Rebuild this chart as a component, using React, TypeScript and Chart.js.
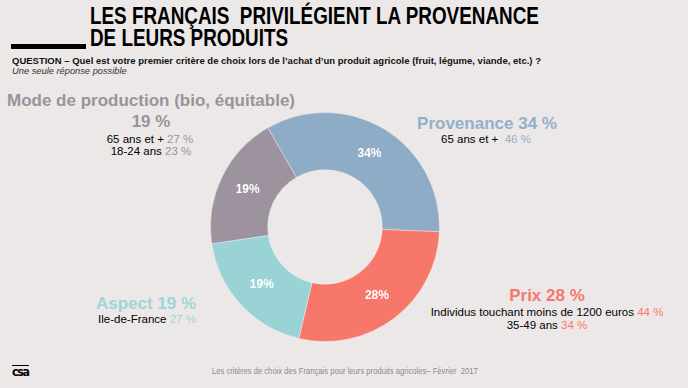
import React, { useEffect, useRef } from "react";
import { Chart, registerables } from "chart.js";

Chart.register(...registerables);

const categories = ["Provenance", "Prix", "Aspect", "Mode de production (bio, équitable)"];
const shares = [34, 28, 19, 19];
const sliceLabels = ["34%", "28%", "19%", "19%"];
const sliceColors = ["#8FACC7", "#F7776B", "#9AD3D6", "#9C939F"];

const BG = "#ECE8E8";
const FONT = "'Liberation Sans', Arial, sans-serif";

const labelPlugin = {
  id: "sliceLabels",
  afterDatasetsDraw(chart: any) {
    const ctx = chart.ctx;
    const meta = chart.getDatasetMeta(0);
    ctx.save();
    ctx.fillStyle = "#FFFFFF";
    ctx.font = `bold 12px ${FONT}`;
    ctx.textAlign = "center";
    ctx.textBaseline = "middle";
    meta.data.forEach((arc: any, i: number) => {
      const p = arc.tooltipPosition();
      ctx.fillText(sliceLabels[i], p.x, p.y);
    });
    ctx.restore();
  },
};

type Part = { t: string; c: string };

function Txt(props: { x: number; y: number; size: number; bold?: boolean; parts: Part[]; align?: string; italic?: boolean }) {
  const { x, y, size, bold, parts, align, italic } = props;
  const tx = align === "left" ? "0" : "-50%";
  return (
    <div
      style={{
        position: "absolute",
        left: x,
        top: y,
        transform: `translate(${tx}, -50%)`,
        fontFamily: FONT,
        fontSize: size,
        fontWeight: bold ? "bold" : "normal",
        fontStyle: italic ? "italic" : "normal",
        lineHeight: 1,
        whiteSpace: "pre",
      }}
    >
      {parts.map((p, i) => (
        <span key={i} style={{ color: p.c }}>
          {p.t}
        </span>
      ))}
    </div>
  );
}

export default function App() {
  const ref = useRef<HTMLCanvasElement | null>(null);

  useEffect(() => {
    if (!ref.current) return;
    const chart = new Chart(ref.current, {
      type: "doughnut",
      data: {
        labels: categories,
        datasets: [
          {
            data: shares,
            backgroundColor: sliceColors,
            borderColor: "rgba(255,255,255,0.35)",
            borderWidth: 1,
          },
        ],
      },
      options: {
        animation: false,
        responsive: false,
        maintainAspectRatio: false,
        cutout: "50%",
        rotation: -30,
        layout: { padding: 4 },
        plugins: { legend: { display: false }, tooltip: { enabled: false } },
      },
      plugins: [labelPlugin],
    });
    return () => chart.destroy();
  }, []);

  const grayM = "#9A939D";
  const blueP = "#93B0CB";
  const aqua = "#9DD6DA";
  const red = "#F8776B";

  return (
    <div style={{ position: "fixed", left: 0, top: 0, width: 688, height: 388, background: BG, overflow: "hidden" }}>
      <div
        style={{
          position: "absolute",
          left: 90,
          top: 4.5,
          fontFamily: FONT,
          fontWeight: "bold",
          fontSize: 23,
          lineHeight: "22px",
          color: "#000",
          whiteSpace: "pre",
          transform: "scaleX(0.82)",
          transformOrigin: "left top",
        }}
      >
        {"LES FRANÇAIS  PRIVILÉGIENT LA PROVENANCE\nDE LEURS PRODUITS"}
      </div>
      <div style={{ position: "absolute", left: 11, top: 44, width: 75, height: 5, background: "#000" }} />
      <Txt x={12} y={61} size={9.5} bold align="left" parts={[{ t: "QUESTION – Quel est votre premier critère de choix lors de l’achat d’un produit agricole (fruit, légume, viande, etc.) ?", c: "#111" }]} />
      <Txt x={12} y={72} size={9.3} italic align="left" parts={[{ t: "Une seule réponse possible", c: "#333" }]} />

      <Txt x={151} y={100} size={17} bold parts={[{ t: "Mode de production (bio, équitable)", c: grayM }]} />
      <Txt x={151} y={121} size={17} bold parts={[{ t: "19 %", c: grayM }]} />
      <Txt x={150} y={140} size={11.5} parts={[{ t: "65 ans et + ", c: "#000" }, { t: "27 %", c: grayM }]} />
      <Txt x={151} y={152} size={11.5} parts={[{ t: "18-24 ans ", c: "#000" }, { t: "23 %", c: grayM }]} />

      <Txt x={487} y={123} size={17} bold parts={[{ t: "Provenance 34 %", c: blueP }]} />
      <Txt x={486} y={140} size={11.5} parts={[{ t: "65 ans et +  ", c: "#000" }, { t: "46 %", c: blueP }]} />

      <Txt x={146} y={303} size={17} bold parts={[{ t: "Aspect 19 %", c: aqua }]} />
      <Txt x={147} y={320} size={11.5} parts={[{ t: "Ile-de-France ", c: "#000" }, { t: "27 %", c: aqua }]} />

      <Txt x={547} y={295} size={17} bold parts={[{ t: "Prix 28 %", c: red }]} />
      <Txt x={547} y={313} size={11.5} parts={[{ t: "Individus touchant moins de 1200 euros ", c: "#000" }, { t: "44 %", c: red }]} />
      <Txt x={547} y={326} size={11.5} parts={[{ t: "35-49 ans ", c: "#000" }, { t: "34 %", c: red }]} />

      <canvas
        ref={ref}
        width={238}
        height={238}
        style={{ position: "absolute", left: 325 - 119, top: 227 - 119, width: 238, height: 238 }}
      />

      <div
        style={{
          position: "absolute",
          left: 212,
          top: 371,
          transform: "translateY(-50%) scaleX(0.85)",
          transformOrigin: "left center",
          fontFamily: FONT,
          fontSize: 9,
          lineHeight: 1,
          color: "#8A8A8A",
          whiteSpace: "pre",
        }}
      >
        {"Les critères de choix des Français pour leurs produits agricoles– Février  2017"}
      </div>

      <div
        style={{
          position: "absolute",
          left: 12,
          top: 365,
          width: 20,
          borderTop: "1.5px solid #000",
          fontFamily: "'DejaVu Sans', sans-serif",
          fontWeight: "bold",
          fontSize: 13,
          lineHeight: "11px",
          color: "#000",
          letterSpacing: -1.5,
          transform: "scaleX(0.85)",
          transformOrigin: "left top",
        }}
      >
        csa
      </div>
    </div>
  );
}
